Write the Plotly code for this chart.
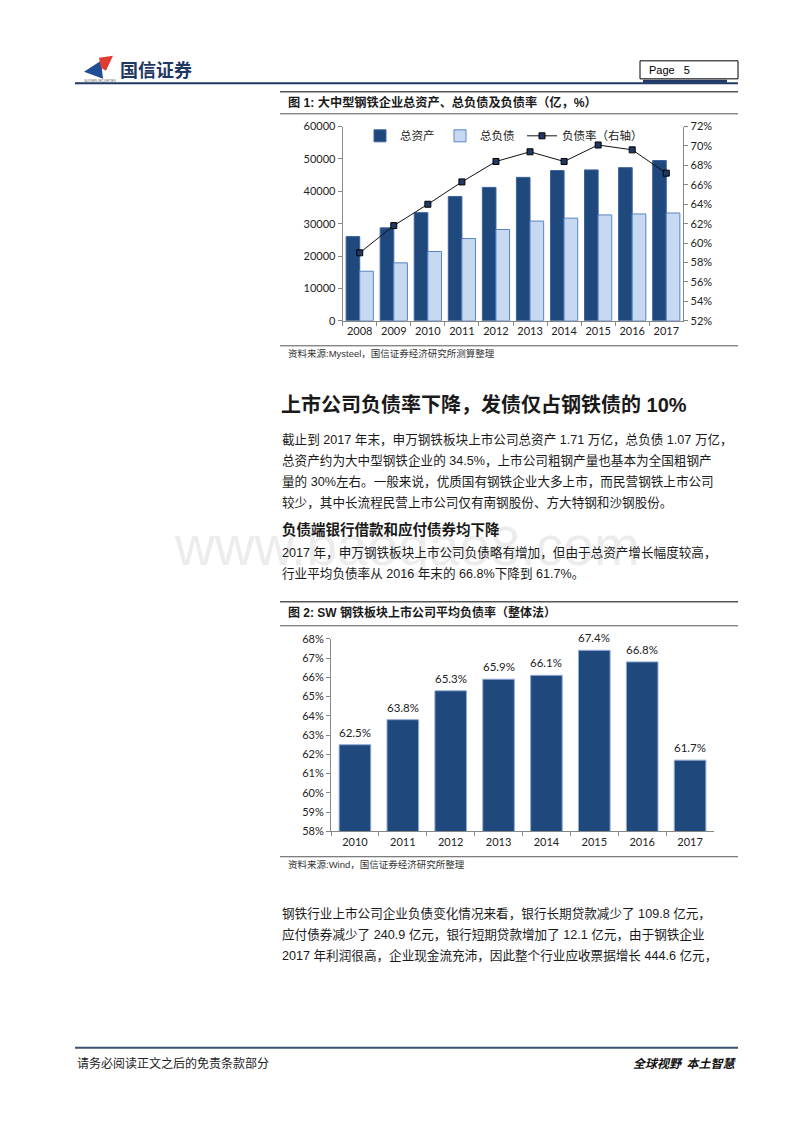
import plotly.graph_objects as go

W, H = 800, 1132
OFF = 8  # page body margin compensation
def X(px): return (px - OFF) / W
def Y(py):
    c = 638 + (py - 638) * 1.0115
    return 1 - (c - OFF) / H

# ---------------- data ----------------
years1 = ['2008', '2009', '2010', '2011', '2012', '2013', '2014', '2015', '2016', '2017']
total_assets = [26000, 28700, 33400, 38400, 41200, 44300, 46400, 46600, 47300, 49500]
total_liab = [15300, 17900, 21400, 25400, 28200, 30800, 31700, 32700, 33000, 33300]
debt_ratio = [59.0, 61.8, 64.0, 66.3, 68.4, 69.4, 68.4, 70.1, 69.6, 67.2]

years2 = ['2010', '2011', '2012', '2013', '2014', '2015', '2016', '2017']
sw_ratio = [62.5, 63.8, 65.3, 65.9, 66.1, 67.4, 66.8, 61.7]

DARK = '#1F497D'
LIGHT = '#C6D9F1'
AX = '#868686'
NUM = 'Lato, Liberation Sans, sans-serif'
CJK = 'Liberation Sans, Noto Sans CJK SC, sans-serif'
TXT = '#1a1a1a'

fig = go.Figure()

fig.add_trace(go.Bar(x=years1, y=total_assets, name='总资产', xaxis='x', yaxis='y', legend='legend',
                     marker=dict(color=DARK, line=dict(color='#3A62A0', width=1))))
fig.add_trace(go.Bar(x=years1, y=total_liab, name='总负债', xaxis='x', yaxis='y', legend='legend2',
                     marker=dict(color=LIGHT, line=dict(color='#5B84C0', width=1))))
fig.add_trace(go.Scatter(x=years1, y=debt_ratio, name='负债率（右轴）', xaxis='x', yaxis='y2',
                         legend='legend3', mode='lines+markers',
                         line=dict(color='#111111', width=1),
                         marker=dict(symbol='square', size=6, color='#1F3864',
                                     line=dict(color='#000000', width=1))))

fig.add_trace(go.Bar(x=years2, y=sw_ratio, name='SW', xaxis='x2', yaxis='y3', showlegend=False,
                     width=0.66,
                     marker=dict(color=DARK, line=dict(color='#8FAAD6', width=1))))

axis_common = dict(showline=True, linecolor=AX, linewidth=1, ticks='outside', ticklen=4,
                   tickcolor=AX, showgrid=False, zeroline=False,
                   tickfont=dict(family=NUM, size=11, color='#222'))

def leg(xpx):
    return dict(orientation='h', x=X(xpx), y=Y(136), xanchor='left', yanchor='middle',
                font=dict(family='Noto Sans CJK SC', size=11.5, color='#222'),
                bgcolor='rgba(0,0,0,0)', itemwidth=30)

fig.update_layout(
    width=W, height=H, margin=dict(l=0, r=0, t=0, b=0),
    paper_bgcolor='white', plot_bgcolor='white',
    barmode='group', bargap=0.2, bargroupgap=0.0,
    xaxis=dict(domain=[X(342.7), X(683.3)], anchor='y', type='category', tickson='boundaries',
               range=[-0.5, len(years1) - 0.5], tickangle=0, **axis_common),
    yaxis=dict(domain=[Y(321), Y(126.7)], anchor='x', range=[0, 60000], dtick=10000,
               tickformat='d', **axis_common),
    yaxis2=dict(overlaying='y', side='right', anchor='x', range=[52, 72], dtick=2,
                ticksuffix='%', **axis_common),
    xaxis2=dict(domain=[X(331), X(714)], anchor='y3', type='category', tickson='boundaries',
                range=[-0.5, len(years2) - 0.5], tickangle=0, **axis_common),
    yaxis3=dict(domain=[Y(831.7), Y(639)], anchor='x2', range=[58, 68], dtick=1,
                ticksuffix='%', **axis_common),
    legend=leg(360), legend2=leg(440), legend3=leg(522),
    showlegend=True,
)

shapes = []
def hline(y, x0, x1, color='#555555', width=1):
    shapes.append(dict(type='line', xref='paper', yref='paper', x0=X(x0), x1=X(x1),
                       y0=Y(y), y1=Y(y), line=dict(color=color, width=width)))

# header
hline(83.5, 75, 738, '#1F3864', 2)
hline(81.5, 643, 727, '#1F3864', 3)
shapes.append(dict(type='rect', xref='paper', yref='paper', x0=X(640), x1=X(738), y0=Y(79), y1=Y(61),
                   line=dict(color='#000', width=1), fillcolor='white'))
def path(pts):
    return 'M ' + ' L '.join(f'{X(a):.5f},{Y(b):.5f}' for a, b in pts) + ' Z'
shapes.append(dict(type='path', xref='paper', yref='paper', path=path([(84, 72), (101, 61), (103, 79)]),
                   fillcolor='#1F4E96', line=dict(width=0)))
shapes.append(dict(type='path', xref='paper', yref='paper', path=path([(99, 58), (113, 56), (106, 71), (101, 68)]),
                   fillcolor='#E03C31', line=dict(width=0)))

# figure 1 frame lines
hline(92, 280, 738, '#555555', 1.5)
hline(114, 280, 738, '#555555', 1)
hline(346, 280, 738, '#555555', 1)
# figure 2 frame lines
hline(602, 280, 738, '#555555', 1.5)
hline(626, 280, 738, '#555555', 1)
hline(857, 280, 738, '#555555', 1)
# footer
hline(1048, 75, 738, '#3B5170', 2)

annotations = []
def text(x, y, s, size=13, family=CJK, color=TXT, xanchor='left', yanchor='middle'):
    annotations.append(dict(x=X(x), y=Y(y), xref='paper', yref='paper', text=s, showarrow=False,
                            xanchor=xanchor, yanchor=yanchor,
                            font=dict(family=family, size=size, color=color)))

# watermark
text(407, 546, 'www.baogao8.com', size=55, family='Liberation Sans, sans-serif',
     color='rgba(200,200,200,0.35)', xanchor='center')

# header texts
text(118, 69, '<b>国信证券</b>', size=18, family='Noto Sans CJK SC', color='#1F3864')
text(82, 81, 'GUOSEN SECURITIES', size=3, family='Liberation Sans', color='#555')
text(647, 70, 'Page&nbsp;&nbsp;&nbsp;5', size=11, family='Liberation Sans, sans-serif', color='#000')

# figure 1 title and source
text(286, 103, '<b>图 1: 大中型钢铁企业总资产、总负债及负债率（亿，%）</b>', size=12.2)
text(286, 354, '资料来源:Mysteel，国信证券经济研究所测算整理', size=9.5, color='#333')

# section heading and paragraphs
text(279, 405, '<b>上市公司负债率下降，发债仅占钢铁债的 10%</b>', size=20)
para1 = ['截止到 2017 年末，申万钢铁板块上市公司总资产 1.71 万亿，总负债 1.07 万亿，',
         '总资产约为大中型钢铁企业的 34.5%，上市公司粗钢产量也基本为全国粗钢产',
         '量的 30%左右。一般来说，优质国有钢铁企业大多上市，而民营钢铁上市公司',
         '较少，其中长流程民营上市公司仅有南钢股份、方大特钢和沙钢股份。']
for i, s in enumerate(para1):
    text(280, 440 + 21 * i, s, size=12.6)

text(280, 530, '<b>负债端银行借款和应付债券均下降</b>', size=14.5)
para2 = ['2017 年，申万钢铁板块上市公司负债略有增加，但由于总资产增长幅度较高，',
         '行业平均负债率从 2016 年末的 66.8%下降到 61.7%。']
for i, s in enumerate(para2):
    text(280, 553 + 21 * i, s, size=12.6)

# figure 2 title and source
text(286, 613, '<b>图 2: SW 钢铁板块上市公司平均负债率（整体法）</b>', size=12)
text(286, 865, '资料来源:Wind，国信证券经济研究所整理', size=9.5, color='#333')

para3 = ['钢铁行业上市公司企业负债变化情况来看，银行长期贷款减少了 109.8 亿元，',
         '应付债券减少了 240.9 亿元，银行短期贷款增加了 12.1 亿元，由于钢铁企业',
         '2017 年利润很高，企业现金流充沛，因此整个行业应收票据增长 444.6 亿元，']
for i, s in enumerate(para3):
    text(280, 914 + 21 * i, s, size=12.6)

# footer
text(75, 1063, '请务必阅读正文之后的免责条款部分', size=12, family='Noto Sans CJK SC', color='#222')
text(738, 1063, '<b><i>全球视野&nbsp;&nbsp;本土智慧</i></b>', size=12, family='Noto Sans CJK SC',
     color='#111', xanchor='right')

# data labels for chart 2 (category index on x2, value on y3)
for i, v in enumerate(sw_ratio):
    annotations.append(dict(x=i, y=v, xref='x2', yref='y3', text=f'{v:.1f}%', showarrow=False,
                            xanchor='center', yanchor='bottom', yshift=4,
                            font=dict(family=NUM, size=11.5, color='#222')))

fig.update_layout(shapes=shapes, annotations=annotations)

fig.write_html('out.html')
